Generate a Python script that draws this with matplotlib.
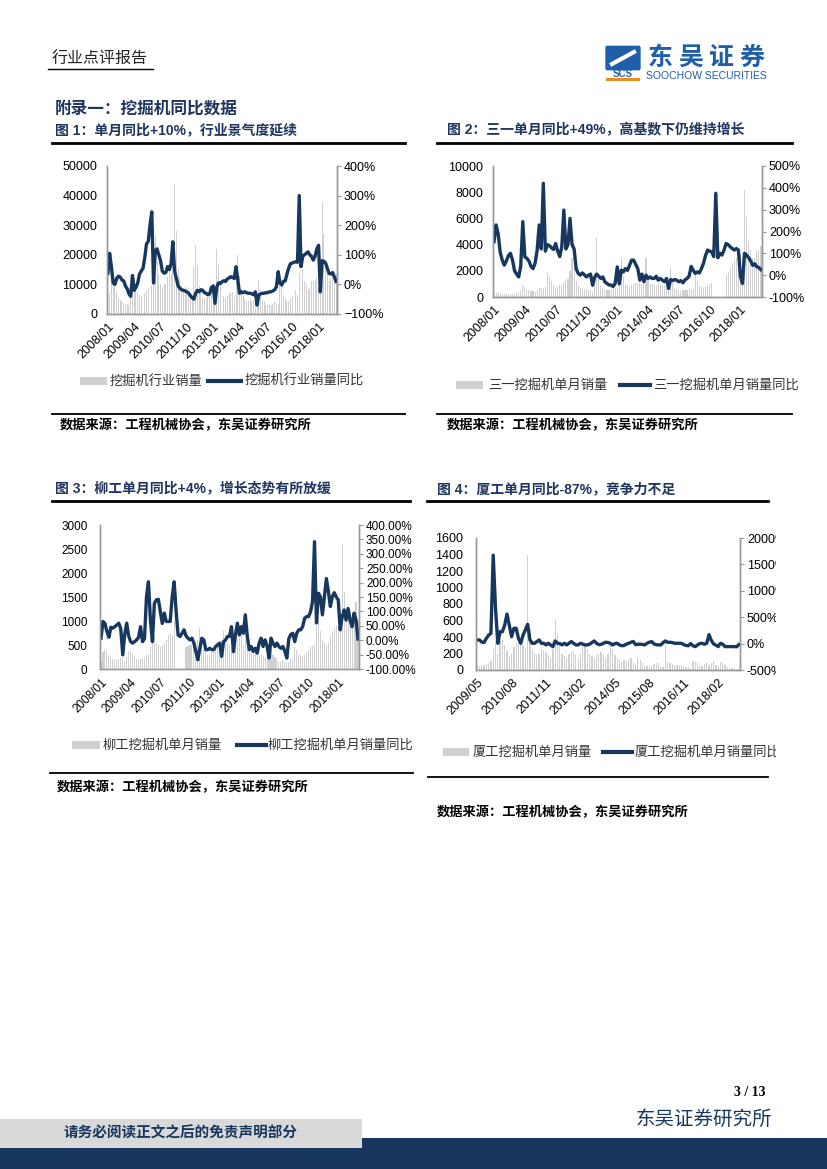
import matplotlib
matplotlib.use('Agg')
import matplotlib.pyplot as plt
from matplotlib.patches import Rectangle, FancyBboxPatch
from matplotlib.lines import Line2D
from matplotlib.ticker import FuncFormatter
import numpy as np

plt.rcParams['font.family'] = ['Liberation Sans', 'Noto Sans CJK SC', 'DejaVu Sans']

W, H = 827, 1169
NAVY = '#17375e'
TITLE = '#1f3560'
BAR = '#d0d0d0'

# ---- 图1 挖掘机行业 (2008/01 - 2018/11) ----
ticks_a = ['2008/01', '2009/04', '2010/07', '2011/10', '2013/01',
           '2014/04', '2015/07', '2016/10', '2018/01']
industry_sales = [
    4500, 7000, 13500, 12500, 9000, 7500, 5500, 4800, 4500, 3800, 3200, 3500,
    3000, 6200, 11500, 12000, 9200, 7500, 6500, 6200, 6800, 7000, 8000, 8800,
    8800, 9500, 29500, 26500, 18000, 13500, 10000, 9000, 10500, 10000, 12500, 14500,
    13500, 17000, 44000, 28000, 15500, 12000, 9500, 8500, 9000, 8000, 7500, 6000,
    4800, 15800, 23300, 16500, 9500, 7000, 5500, 5000, 5500, 5800, 6200, 6500,
    4800, 9000, 21800, 17000, 10000, 7500, 6000, 5500, 6000, 6800, 7200, 7500,
    5800, 11000, 19900, 13000, 8500, 6500, 5000, 4500, 4500, 5000, 4500, 4800,
    4300, 5000, 11500, 8000, 5000, 4500, 3000, 2900, 3300, 3100, 3500, 4000,
    3700, 3500, 14500, 10800, 6500, 5500, 4300, 4500, 5500, 6000, 7000, 8000,
    6500, 14000, 27500, 15000, 11000, 10000, 8200, 8800, 11000, 11000, 11000, 12500,
    11000, 11000, 38000, 27000, 17500, 14000, 11000, 12000, 13000, 14000, 13500]
industry_yoy = [
    37, 105, 60, 5, 0, 20, 28, 25, 15, 12, -5, -15,
    -32, -40, 30, -20, -10, 5, 35, 45, 54, 90, 137, 145,
    200, 245, 5, 115, 120, 100, 80, 45, 38, 40, 60, 50,
    70, 144, 45, 20, -5, -13, -18, -20, -22, -25, -30, -38,
    -45, -50, -30, -20, -25, -18, -20, -28, -30, -35, -32, -10,
    -5, -64, -10, 5, 3, 9, 12, 10, 18, 22, 26, 24,
    20, 60, 15, -30, -25, -28, -25, -28, -30, -30, -32, -35,
    -25, -70, -35, -32, -30, -30, -28, -28, -25, -25, -22, -18,
    -8, 43, 5, -2, 10, 12, 35, 55, 70, 72, 75, 76,
    75, 300, 60, 95, 100, 105, 110, 100, 95, 82, 95, 120,
    132, -25, 80, 78, 72, 55, 37, 35, 40, 25, 10]

# ---- 图2 三一 ----
sany_sales = [
    250, 300, 350, 300, 250, 200, 200, 200, 250, 250, 200, 300,
    300, 500, 900, 800, 550, 500, 450, 450, 400, 500, 650, 700,
    700, 800, 1800, 1600, 1200, 900, 700, 750, 900, 950, 1100, 1300,
    1400, 2000, 3000, 2300, 1200, 900, 700, 600, 600, 600, 550, 500,
    400, 1800, 4500, 1700, 900, 700, 500, 500, 550, 600, 650, 700,
    600, 1200, 3000, 1600, 1000, 900, 800, 900, 1000, 1100, 1100, 1100,
    1000, 1100, 3000, 1400, 1000, 1000, 950, 900, 1000, 950, 900, 900,
    800, 700, 2200, 1100, 700, 600, 500, 450, 500, 500, 550, 650,
    600, 600, 1800, 1200, 800, 750, 700, 750, 850, 950, 1100, 0,
    0, 0, 0, 0, 0, 1700, 1900, 2300, 2600, 2800, 3000, 3100,
    3300, 3000, 8200, 6100, 4300, 3600, 3000, 3000, 3500, 3600, 3900]
sany_yoy = [
    153, 230, 190, 105, 69, 46, 65, 90, 100, 69, 20, 5,
    -8, 40, 245, 84, 77, 65, 40, 30, 55, 115, 230, 120,
    421, 110, 140, 135, 125, 118, 145, 110, 85, 130, 298, 120,
    140, 260, 140, 120, 30, 8, 0, 10, 2, -8, 0, 5,
    -46, -10, 5, -5, -15, -8, -31, -38, -45, -45, -52, -38,
    38, -40, 23, 15, 30, 22, 45, 69, 69, 50, 30, -23,
    5, -30, 0, -15, -8, -15, -15, -5, -23, -15, -23, -30,
    -15, -61, -20, -25, -20, -23, -30, -25, -35, -22, -15, -5,
    40, 23, 8, 15, 10, 30, 54, 90, 115, 110, 107, 85,
    375, 80, 100, 92, 115, 145, 140, 130, 122, 115, 122, 115,
    -5, -38, 100, 92, 80, 65, 45, 52, 38, 35, 25]

# ---- 图3 柳工 ----
liugong_sales = [
    150, 350, 400, 380, 300, 250, 200, 200, 180, 200, 250, 220,
    150, 250, 380, 370, 320, 250, 200, 180, 200, 220, 250, 300,
    300, 450, 800, 700, 550, 500, 450, 500, 550, 600, 700, 750,
    700, 1000, 0, 0, 0, 0, 0, 450, 480, 500, 520, 480,
    400, 600, 850, 600, 400, 350, 300, 300, 350, 400, 450, 480,
    450, 600, 800, 700, 550, 500, 450, 500, 550, 600, 650, 700,
    500, 600, 750, 600, 450, 400, 350, 300, 300, 300, 280, 250,
    250, 200, 400, 300, 250, 200, 150, 150, 180, 150, 120, 150,
    200, 200, 450, 400, 300, 300, 250, 300, 350, 400, 450, 480,
    500, 900, 1100, 800, 600, 550, 500, 550, 700, 800, 850, 900,
    900, 1000, 2600, 1600, 1250, 1100, 900, 950, 1100, 1400, 1000]
liugong_yoy = [
    7, 65, 58, 30, 10, 45, 42, 47, 53, 59, 40, -51,
    20, 59, 15, -5, -10, -5, 1, 10, 47, -5, 5, 150,
    203, 70, -5, 128, 140, 142, 100, 58, 94, 65, 65, 65,
    150, 203, 100, 18, 13, 24, 36, 15, 7, 1, 7, -10,
    -40, -68, -28, 7, 1, -33, -33, -28, -33, -33, -22, -16,
    -10, -56, -5, 1, 13, 13, 47, -40, 18, 59, 18, 47,
    24, 88, 13, -33, -22, -39, -28, -45, -10, 7, -22, 1,
    -20, -62, 7, -10, -22, -10, -22, -28, -22, -39, -62, 5,
    20, 24, -5, 24, 36, 36, 47, 76, 82, 82, 99, 134,
    342, 60, 163, 150, 88, 151, 214, 170, 117, 152, 165, 150,
    140, 36, 82, 105, 70, 110, 70, 47, 94, 70, 4]

# ---- 图4 厦工 (2009/05 - 2018/11) ----
ticks_b = ['2009/05', '2010/08', '2011/11', '2013/02', '2014/05',
           '2015/08', '2016/11', '2018/02']
xgma_sales = [
    60, 50, 55, 60, 70, 80, 110, 250,
    350, 200, 380, 360, 300, 230, 170, 200, 280, 320, 330, 350,
    300, 270, 1400, 480, 260, 210, 180, 200, 250, 240, 220, 180,
    150, 250, 620, 440, 300, 200, 170, 150, 200, 230, 220, 200,
    150, 200, 350, 300, 250, 200, 170, 150, 180, 200, 220, 200,
    150, 200, 330, 250, 180, 150, 120, 100, 120, 110, 130, 140,
    80, 60, 150, 120, 80, 60, 50, 45, 60, 70, 80, 90,
    50, 40, 330, 100, 80, 70, 60, 55, 60, 65, 50, 40,
    40, 30, 110, 100, 80, 60, 50, 70, 80, 60, 90, 110,
    60, 40, 100, 80, 60, 40, 30, 25, 20, 15, 12]
xgma_yoy = [
    69, 69, 30, 20, 100, 160, 195, 1675,
    670, 5, 225, 225, 350, 560, 350, 130, 290, 290, 100, 6,
    160, 260, 365, 70, 6, 6, 38, 69, 6, 6, -25, 6,
    -25, -57, 50, 6, 0, -25, 6, -25, 6, 38, 6, -25,
    -25, 6, -10, -25, -25, -10, 20, 50, 6, -20, -15, 6,
    25, 20, 6, -25, 0, 6, -25, -40, -35, -12, 6, 25,
    40, -20, -12, -12, -15, -25, 6, 25, 38, -5, -20, -25,
    -25, 20, 50, 25, 25, 20, 6, 6, 6, 6, -20, -35,
    -40, 0, -40, -57, -25, 0, 6, -12, 6, 170, 60, -5,
    -30, -57, 6, -12, -57, -57, -57, -57, -57, -60, -20]

fig = plt.figure(figsize=(W / 100, H / 100), dpi=100)


def box(l, t, r, b):
    return [l / W, 1 - b / H, (r - l) / W, (b - t) / H]


def txt(x, y, s, **kw):
    kw.setdefault('va', 'center')
    fig.text(x / W, 1 - y / H, s, **kw)


def hline(x0, x1, y, lw=1.6, color='black'):
    fig.add_artist(Line2D([x0 / W, x1 / W], [1 - y / H, 1 - y / H], lw=lw, color=color))


def rect(x0, y0, x1, y1, color, z=1):
    fig.add_artist(Rectangle((x0 / W, 1 - y1 / H), (x1 - x0) / W, (y1 - y0) / H,
                             facecolor=color, edgecolor='none', zorder=z))


def chart(pos, sales, yoy, ticks, llim, lstep, rlim, rstep, fmt, fs, lpad):
    ax = fig.add_axes(box(*pos))
    x = np.arange(len(sales))
    ax.bar(x, sales, width=0.55, color=BAR, zorder=1)
    ax.set_xlim(-0.5, len(sales) - 0.5)
    ax.set_ylim(*llim)
    ax.set_yticks(np.arange(llim[0], llim[1] + 1, lstep))
    ax.set_xticks(np.arange(0, len(sales), 15))
    ax.set_xticklabels(ticks, rotation=45, ha='right', va='top',
                       rotation_mode='anchor', fontsize=fs)
    ax.tick_params(axis='x', length=0, pad=5)
    ax.tick_params(axis='y', length=0, pad=lpad, labelsize=fs)
    ax2 = ax.twinx()
    ax2.plot(x, yoy, color=NAVY, lw=2.4, solid_joinstyle='round')
    ax2.set_ylim(*rlim)
    ax2.set_yticks(np.arange(rlim[0], rlim[1] + 1, rstep))
    ax2.yaxis.set_major_formatter(FuncFormatter(fmt))
    ax2.tick_params(axis='y', length=3, width=0.8, color='#999999', pad=2, labelsize=fs)
    for a in (ax, ax2):
        a.spines['top'].set_visible(False)
        for s in ('left', 'right', 'bottom'):
            a.spines[s].set_color('#999999')
            a.spines[s].set_linewidth(1)
    return ax


def legend(y, px, tx1, lx, tx2, label1, label2, fs=9.5):
    rect(px[0], y - 4, px[1], y + 4, BAR)
    txt(tx1, y, label1, fontsize=fs, color='#333333', family='Noto Sans CJK SC')
    fig.add_artist(Line2D([lx[0] / W, lx[1] / W], [1 - y / H, 1 - y / H], lw=3, color=NAVY))
    txt(tx2, y, label2, fontsize=fs, color='#333333', family='Noto Sans CJK SC')


# ---- page header ----
txt(52, 59, '行业点评报告', fontsize=11.5, color='#222222', family='Noto Sans CJK SC')
hline(48, 153, 69, lw=1.0)
fig.add_artist(FancyBboxPatch((607 / W, 1 - 68 / H), 32 / W, 20 / H,
                              boxstyle='round,pad=0.002', facecolor='#1f5faa', edgecolor='none'))
fig.add_artist(Line2D([612 / W, 634 / W], [1 - 64 / H, 1 - 52 / H], lw=3, color='white'))
txt(623, 74, 'SCS', fontsize=7, weight='bold', color='#1f5faa', ha='center')
rect(606, 78, 640, 81, '#f08c1e')
for i, ch in enumerate('东吴证券'):
    txt(660 + i * 30.5, 58, ch, fontsize=18, weight='bold', color='#1f5faa',
        ha='center', family='Noto Sans CJK SC')
txt(706, 76, 'SOOCHOW SECURITIES', fontsize=7.5, color='#1f5faa', ha='center')

txt(55, 109, '附录一：挖掘机同比数据', fontsize=12, weight='bold', color=TITLE)
txt(55, 130, '图 1：单月同比+10%，行业景气度延续', fontsize=10, weight='bold', color=TITLE)
txt(447, 130, '图 2：三一单月同比+49%，高基数下仍维持增长', fontsize=10, weight='bold', color=TITLE)
hline(52, 405, 143, lw=2)
hline(437, 792, 143, lw=2)

# ---- chart 1 ----
chart((107, 166, 337, 314), industry_sales, industry_yoy, ticks_a,
      (0, 50000), 10000, (-100, 400), 100,
      lambda v, p: f'{v:.0f}%'.replace('-', '\u2212'), 9, 7)
legend(381, (80, 107), 110, (208, 241), 245, '挖掘机行业销量', '挖掘机行业销量同比')
hline(52, 405, 414, lw=1.3)
txt(60, 425, '数据来源：工程机械协会，东吴证券研究所', fontsize=9.5, weight='bold')

# ---- chart 2 ----
chart((493, 166, 762, 297), sany_sales, sany_yoy, ticks_a,
      (0, 10000), 2000, (-100, 500), 100,
      lambda v, p: f'{v:.0f}%', 9, 7)
legend(385, (456, 483), 488, (620, 650), 653, '三一挖掘机单月销量', '三一挖掘机单月销量同比')
hline(437, 792, 414, lw=1.3)
txt(447, 425, '数据来源：工程机械协会，东吴证券研究所', fontsize=9.5, weight='bold')

# ---- chart 3 ----
txt(55, 489, '图 3：柳工单月同比+4%，增长态势有所放缓', fontsize=10, weight='bold', color=TITLE)
hline(52, 410, 501, lw=2)
chart((100, 525, 359, 669), liugong_sales, liugong_yoy, ticks_a,
      (0, 3000), 500, (-100, 400), 50,
      lambda v, p: f'{v:.2f}%', 8.5, 9)
legend(745, (72, 100), 103, (237, 266), 268, '柳工挖掘机单月销量', '柳工挖掘机单月销量同比')
rect(417, 505, 427, 765, 'white', z=20)
hline(50, 413, 773, lw=1.3)
txt(57, 787, '数据来源：工程机械协会，东吴证券研究所', fontsize=9.5, weight='bold')

# ---- chart 4 ----
txt(437, 489, '图 4：厦工单月同比-87%，竞争力不足', fontsize=10, weight='bold', color=TITLE)
hline(427, 768, 501, lw=2)
chart((476, 538, 740, 670), xgma_sales, xgma_yoy, ticks_b,
      (0, 1600), 200, (-500, 2000), 500,
      lambda v, p: f'{v:.0f}%', 9, 9)
legend(752, (443, 469), 473, (603, 632), 635, '厦工挖掘机单月销量', '厦工挖掘机单月销量同比')
rect(776, 505, 827, 765, 'white', z=20)
hline(428, 768, 777, lw=1.3)
txt(437, 812, '数据来源：工程机械协会，东吴证券研究所', fontsize=9.5, weight='bold')

# ---- footer ----
txt(765, 1093, '3 / 13', fontsize=10, weight='bold', ha='right', family='Liberation Serif')
txt(704, 1119, '东吴证券研究所', fontsize=14, color=NAVY, ha='center', family='Noto Sans CJK SC')
rect(0, 1138, 827, 1169, NAVY, z=2)
rect(0, 1119, 362, 1148, '#d9d9d9', z=3)
fig.text(181 / W, 1 - 1133 / H, '请务必阅读正文之后的免责声明部分', fontsize=10.5,
         weight='bold', color=NAVY, ha='center', va='center', zorder=4)

fig.savefig('out.png', dpi=100)
